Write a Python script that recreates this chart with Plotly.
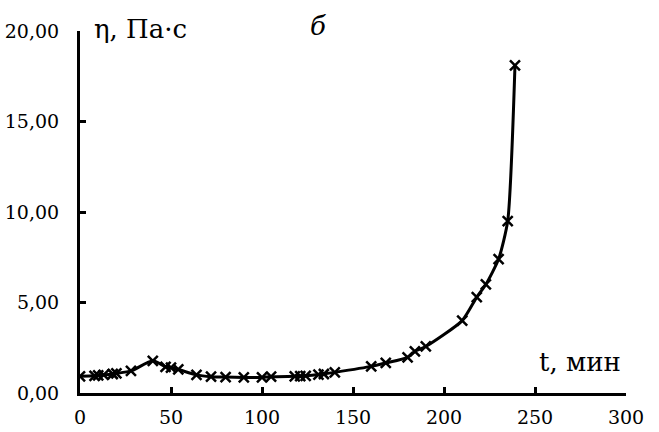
import plotly.graph_objects as go

t_min = [0, 8, 10, 13, 18, 20, 28, 40, 47, 50, 54, 64, 72, 80, 90, 100, 105,
         118, 121, 124, 131, 134, 140, 160, 168, 180, 184, 190, 210, 218, 223,
         230, 235, 239]
eta = [0.92, 0.95, 0.97, 1.0, 1.05, 1.08, 1.22, 1.78, 1.45, 1.4, 1.3, 1.0,
       0.9, 0.88, 0.86, 0.86, 0.9, 0.92, 0.93, 0.95, 1.02, 1.05, 1.14, 1.47,
       1.66, 1.97, 2.3, 2.57, 4.0, 5.3, 6.0, 7.4, 9.5, 18.1]

x_ticks = [0, 50, 100, 150, 200, 250, 300]
y_ticks = [0, 5, 10, 15, 20]

FONT = "DejaVu Serif"

fig = go.Figure()
fig.add_trace(go.Scatter(
    x=t_min, y=eta, mode="lines+markers",
    line=dict(color="black", width=3, shape="spline", smoothing=0.6),
    marker=dict(symbol="x-thin", size=10, color="black",
                line=dict(color="black", width=2.5)),
    showlegend=False,
))

fig.update_layout(
    width=659, height=432,
    margin=dict(l=80, r=33, t=31, b=39),
    paper_bgcolor="white", plot_bgcolor="white",
    separators=", ",
    font=dict(family=FONT, color="black", size=19),
    xaxis=dict(range=[0, 300], tickvals=x_ticks, showgrid=False, zeroline=False,
               showline=True, linecolor="black", linewidth=3,
               ticks="inside", ticklen=6, tickwidth=2.5, tickcolor="black",
               tickfont=dict(family=FONT, size=19, color="black"),
               ticklabelstandoff=5, automargin=False),
    yaxis=dict(range=[0, 20], tickvals=y_ticks, tickformat=".2f",
               showgrid=False, zeroline=False,
               showline=True, linecolor="black", linewidth=3,
               ticks="inside", ticklen=6, tickwidth=2.5, tickcolor="black",
               tickfont=dict(family=FONT, size=19, color="black"),
               ticklabelstandoff=14, automargin=False),
    annotations=[
        dict(text="η, Па·с", xref="paper", yref="paper", x=0.022, y=1.005,
             xanchor="left", yanchor="middle", showarrow=False,
             font=dict(family=FONT, size=26, color="black")),
        dict(text="<i>б</i>", xref="paper", yref="paper", x=0.435, y=1.015,
             xanchor="center", yanchor="middle", showarrow=False,
             font=dict(family=FONT, size=26, color="black")),
        dict(text="t, мин", xref="paper", yref="paper", x=0.995, y=0.085,
             xanchor="right", yanchor="middle", showarrow=False,
             font=dict(family=FONT, size=26, color="black")),
    ],
)

fig.write_html("out.html")
